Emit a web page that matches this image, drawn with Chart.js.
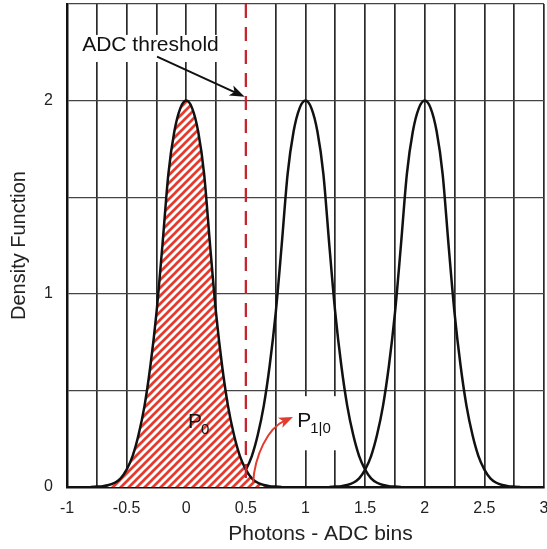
<!DOCTYPE html>
<html>
<head>
<meta charset="utf-8">
<script src="https://cdn.jsdelivr.net/npm/chart.js@4.4.0/dist/chart.umd.min.js"></script>
<style>
html, body { margin: 0; padding: 0; background: #fff; }
</style>
</head>
<body>
<canvas id="myChart" width="547" height="549"></canvas>
<script>
'use strict'
// peaks of the three photon-number densities
const peakCenters = [0, 1, 2];
// shape of one peak (offset from centre -> density)
const curveOffsets = [-0.8, -0.75, -0.7, -0.65, -0.6, -0.55, -0.5, -0.45, -0.4, -0.35, -0.3, -0.25, -0.2, -0.15, -0.1, -0.05, 0,
                      0.05, 0.1, 0.15, 0.2, 0.25, 0.3, 0.35, 0.4, 0.45, 0.5, 0.55, 0.6, 0.65, 0.7, 0.75, 0.8];
const curveHeights = [0, 0.002, 0.004, 0.01, 0.022, 0.045, 0.09, 0.16, 0.27, 0.42, 0.63, 0.9, 1.25, 1.62, 1.84, 1.96, 2.0,
                      1.96, 1.84, 1.62, 1.25, 0.9, 0.63, 0.42, 0.27, 0.16, 0.09, 0.045, 0.022, 0.01, 0.004, 0.002, 0];
const xTickLabels = ['-1', '-0.5', '0', '0.5', '1', '1.5', '2', '2.5', '3'];
const yTickLabels = ['0', '1', '2'];
const threshold = 0.5;

const ctx = document.getElementById('myChart').getContext('2d');
const FONT = '"Liberation Sans", Arial, sans-serif';

function hatchPattern() {
    const s = 8;
    const c = document.createElement('canvas');
    c.width = s; c.height = s;
    const g = c.getContext('2d');
    g.fillStyle = '#fff';
    g.fillRect(0, 0, s, s);
    g.strokeStyle = '#e53a2e';
    g.lineWidth = 2.7;
    g.beginPath();
    g.moveTo(-1, s + 1); g.lineTo(s + 1, -1);
    g.moveTo(-1, 1); g.lineTo(1, -1);
    g.moveTo(s - 1, s + 1); g.lineTo(s + 1, s - 1);
    g.stroke();
    return ctx.createPattern(c, 'repeat');
}

function curve(center) {
    return curveOffsets.map((o, i) => ({x: center + o, y: curveHeights[i]}));
}

function arrowHead(g, tx, ty, ang, len, half, color) {
    g.save();
    g.fillStyle = color;
    g.translate(tx, ty);
    g.rotate(ang);
    g.beginPath();
    g.moveTo(0, 0);
    g.lineTo(-len, -half);
    g.lineTo(-len * 0.75, 0);
    g.lineTo(-len, half);
    g.closePath();
    g.fill();
    g.restore();
}

// white boxes behind the labels (data units: x0, x1, yTop, yBottom)
const labelBoxes = [[-0.93, 0.42, 2.34, 2.2], [0.8, 1.35, 0.47, 0.19]];

const annotations = {
    id: 'annotations',
    beforeDatasetsDraw(chart) {
        const g = chart.ctx, x = chart.scales.x, y = chart.scales.y;
        g.save();
        g.fillStyle = '#fff';
        for (let b of labelBoxes) {
            const l = x.getPixelForValue(b[0]), r = x.getPixelForValue(b[1]);
            const t = y.getPixelForValue(b[2]), btm = y.getPixelForValue(b[3]);
            g.fillRect(l, t, r - l, btm - t);
        }
        g.restore();
    },
    afterDatasetsDraw(chart) {
        const g = chart.ctx, x = chart.scales.x, y = chart.scales.y;
        const px = v => x.getPixelForValue(v), py = v => y.getPixelForValue(v);
        g.save();
        // threshold
        g.strokeStyle = '#c1272d';
        g.lineWidth = 2.3;
        g.setLineDash([14, 9]);
        g.beginPath();
        g.moveTo(px(threshold), py(2.5));
        g.lineTo(px(threshold), py(0));
        g.stroke();
        g.setLineDash([]);

        // ADC threshold label and arrow
        g.fillStyle = '#111';
        g.font = '21px ' + FONT;
        g.textAlign = 'center';
        g.textBaseline = 'alphabetic';
        g.fillText('ADC threshold', px(-0.3), py(2.255));
        const ax0 = px(-0.245), ay0 = py(2.228), ax1 = px(threshold - 0.01), ay1 = py(2.02);
        const ang = Math.atan2(ay1 - ay0, ax1 - ax0);
        g.strokeStyle = '#111';
        g.lineWidth = 2;
        g.beginPath();
        g.moveTo(ax0, ay0);
        g.lineTo(ax1 - 10 * Math.cos(ang), ay1 - 10 * Math.sin(ang));
        g.stroke();
        arrowHead(g, ax1, ay1, ang, 15, 5.5, '#111');

        // P0
        g.textAlign = 'left';
        g.font = '21px ' + FONT;
        g.fillText('P', px(0.015), py(0.306));
        g.font = '15px ' + FONT;
        g.fillText('0', px(0.015) + 13, py(0.306) + 6);

        // P1|0
        g.font = '21px ' + FONT;
        g.fillText('P', px(0.93), py(0.31));
        g.font = '15px ' + FONT;
        g.fillText('1|0', px(0.93) + 13, py(0.31) + 6);

        // red curved arrow from the tail to P1|0
        const s0 = [px(0.56), py(0.02)], c1 = [px(0.575), py(0.165)], c2 = [px(0.685), py(0.305)], e = [px(0.895), py(0.362)];
        g.strokeStyle = '#e53a2e';
        g.lineWidth = 2;
        const rang = Math.atan2(e[1] - c2[1], e[0] - c2[0]);
        g.beginPath();
        g.moveTo(s0[0], s0[1]);
        g.bezierCurveTo(c1[0], c1[1], c2[0], c2[1], e[0] - 9 * Math.cos(rang), e[1] - 9 * Math.sin(rang));
        g.stroke();
        arrowHead(g, e[0], e[1], rang, 14, 5.5, '#e53a2e');
        g.restore();
    },
    afterDraw(chart) {
        // x axis title, set a little right of the plot centre as in the original
        const g = chart.ctx, a = chart.chartArea;
        g.save();
        g.fillStyle = '#222';
        g.font = '21px ' + FONT;
        g.textAlign = 'center';
        g.textBaseline = 'middle';
        g.fillText('Photons - ADC bins', (a.left + a.right) / 2 + 15, a.bottom + 47);
        g.restore();
    }
};

const lineStyle = {borderColor: '#111', borderWidth: 2.5, pointRadius: 0, tension: 0.35, cubicInterpolationMode: 'monotone'};

const myChart = new Chart(ctx, {
    type: 'scatter',
    data: {
        datasets: peakCenters.map((c, i) => Object.assign({
            label: 'n = ' + c,
            data: curve(c),
            showLine: true,
            fill: i === 0 ? 'origin' : false,
            backgroundColor: i === 0 ? hatchPattern() : 'transparent'
        }, lineStyle))
    },
    options: {
        responsive: false,
        animation: false,
        layout: {padding: {left: 0, right: 3, top: 4, bottom: 0}},
        plugins: {legend: {display: false}, tooltip: {enabled: false}},
        scales: {
            x: {
                type: 'linear', min: -1, max: 3,
                afterFit: s => { s.height = 62; s.paddingLeft = 0; s.paddingRight = 0; },
                border: {color: '#111', width: 2.5},
                grid: {
                    // the threshold line replaces the grid line at 0.5
                    color: c => (c.tick && Math.abs(c.tick.value - threshold) < 1e-6) ? 'rgba(0,0,0,0)' : '#2a2a2a',
                    lineWidth: 1.7, drawTicks: false
                },
                ticks: {
                    stepSize: 0.25, padding: 12, maxRotation: 0, autoSkip: false,
                    color: '#222', font: {family: FONT, size: 16},
                    callback: v => {
                        const k = Math.round((v + 1) * 2);
                        return Math.abs((v + 1) * 2 - k) < 1e-6 ? xTickLabels[k] : '';
                    }
                }
            },
            y: {
                type: 'linear', min: 0, max: 2.5,
                afterFit: s => { s.width = 67; s.paddingTop = 0; s.paddingBottom = 0; },
                border: {color: '#111', width: 2.5},
                grid: {color: '#444', lineWidth: 1.2, drawTicks: false},
                ticks: {
                    stepSize: 0.5, padding: 14,
                    color: '#222', font: {family: FONT, size: 16},
                    callback: v => Number.isInteger(v) ? yTickLabels[v] : ''
                },
                title: {display: true, text: 'Density Function', color: '#222', font: {family: FONT, size: 20}, padding: {top: 7, bottom: 0}}
            }
        }
    },
    plugins: [annotations]
});
</script>
</body>
</html>
